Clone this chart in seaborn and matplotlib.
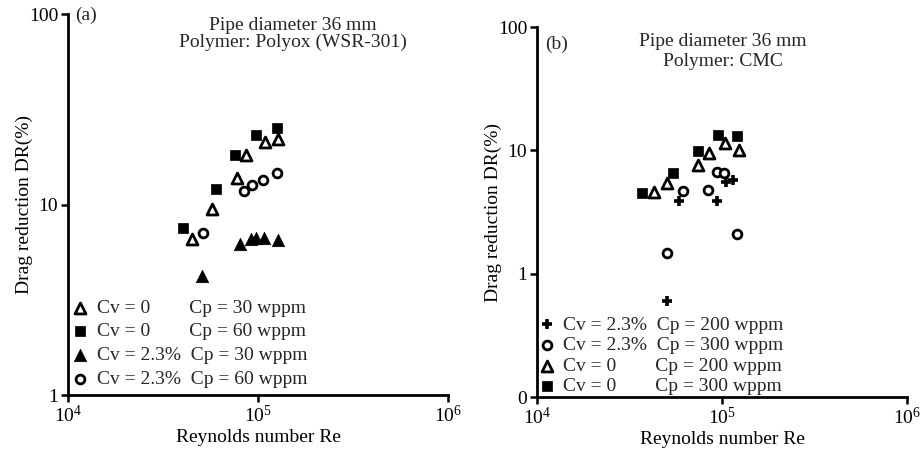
import matplotlib
matplotlib.use("Agg")
import matplotlib.pyplot as plt
import seaborn as sns
import pandas as pd
import numpy as np

# ---------------- data ----------------
# Panel (a): Polyox (WSR-301)
a_re_cv0_cp30 = [45000, 57300, 77400, 86500, 109000, 127000]
a_dr_cv0_cp30 = [6.6, 9.5, 13.7, 18.3, 21.2, 22.2]
a_re_cv0_cp60 = [40300, 60100, 75700, 97500, 126000]
a_dr_cv0_cp60 = [7.5, 12.0, 18.3, 23.1, 25.1]
a_re_cv23_cp30 = [50700, 80400, 91800, 97500, 108000, 127000]
a_dr_cv23_cp30 = [4.2, 6.2, 6.6, 6.7, 6.7, 6.5]
a_re_cv23_cp60 = [51400, 84300, 92900, 106000, 126000]
a_dr_cv23_cp60 = [7.1, 11.8, 12.7, 13.4, 14.7]

# Panel (b): CMC
b_re_cv23_cp200 = [50400, 58600, 94000, 105000, 114600]
b_dr_cv23_cp200 = [0.6, 3.9, 3.9, 5.5, 5.8]
b_re_cv23_cp300 = [50400, 61500, 83900, 94000, 102600, 120500]
b_dr_cv23_cp300 = [1.46, 4.7, 4.8, 6.7, 6.5, 2.1]
b_re_cv0_cp200 = [42800, 50400, 74100, 85100, 104000, 124000]
b_dr_cv0_cp200 = [4.6, 5.4, 7.6, 9.6, 11.4, 10.0]
b_re_cv0_cp300 = [37000, 54300, 74100, 95000, 120500]
b_dr_cv0_cp300 = [4.5, 6.5, 9.8, 13.2, 13.0]

labels_a = ["Cv = 0        Cp = 30 wppm",
            "Cv = 0        Cp = 60 wppm",
            "Cv = 2.3%  Cp = 30 wppm",
            "Cv = 2.3%  Cp = 60 wppm"]
labels_b = ["Cv = 2.3%  Cp = 200 wppm",
            "Cv = 2.3%  Cp = 300 wppm",
            "Cv = 0        Cp = 200 wppm",
            "Cv = 0        Cp = 300 wppm"]

x_ticks = [1e4, 1e5, 1e6]
x_ticklabels = ["$10^4$", "$10^5$", "$10^6$"]
a_yticks = [1, 10, 100]
a_yticklabels = ["1", "10", "100"]
b_yticks = [0.1, 1, 10, 100]
b_yticklabels = ["0", "1", "10", "100"]

# ---------------- style ----------------
sns.set_theme(style="ticks")
plt.rcParams["font.family"] = ["Liberation Serif", "DejaVu Serif"]
plt.rcParams["mathtext.fontset"] = "custom"
plt.rcParams["mathtext.rm"] = "Liberation Serif"
plt.rcParams["mathtext.it"] = "Liberation Serif:italic"
plt.rcParams["mathtext.bf"] = "Liberation Serif:bold"

FS = 14
fig = plt.figure(figsize=(9.22, 4.57), dpi=100)
axA = fig.add_axes([68 / 922, 1 - 395 / 457, 380 / 922, 381 / 457])
axB = fig.add_axes([537 / 922, 1 - 397 / 457, 370 / 922, 370 / 457])

open_kw = dict(color="white", edgecolor="black", linewidth=2.0)
fill_kw = dict(color="black", edgecolor="black", linewidth=0.5)


def draw(ax, x, y, marker, kw, size, label):
    df = pd.DataFrame({"Re": x, "DR": y})
    sns.scatterplot(data=df, x="Re", y="DR", ax=ax, marker=marker, s=size,
                    label=label, zorder=3, **kw)


draw(axA, a_re_cv0_cp30, a_dr_cv0_cp30, "^", open_kw, 62, labels_a[0])
draw(axA, a_re_cv0_cp60, a_dr_cv0_cp60, "s", fill_kw, 62, labels_a[1])
draw(axA, a_re_cv23_cp30, a_dr_cv23_cp30, "^", fill_kw, 80, labels_a[2])
draw(axA, a_re_cv23_cp60, a_dr_cv23_cp60, "o", open_kw, 40, labels_a[3])

draw(axB, b_re_cv23_cp200, b_dr_cv23_cp200, "+",
     dict(color="black", linewidth=2.6), 60, labels_b[0])
draw(axB, b_re_cv23_cp300, b_dr_cv23_cp300, "o", open_kw, 40, labels_b[1])
draw(axB, b_re_cv0_cp200, b_dr_cv0_cp200, "^", open_kw, 62, labels_b[2])
draw(axB, b_re_cv0_cp300, b_dr_cv0_cp300, "s", fill_kw, 62, labels_b[3])

for ax, yt, ytl, ylim in [(axA, a_yticks, a_yticklabels, (1, 100)),
                          (axB, b_yticks, b_yticklabels, (0.1, 100))]:
    ax.set_xscale("log")
    ax.set_yscale("log")
    ax.set_xlim(1e4, 1e6)
    ax.set_ylim(*ylim)
    ax.set_xticks(x_ticks)
    ax.set_xticklabels(x_ticklabels)
    ax.set_yticks(yt)
    ax.set_yticklabels(ytl)
    ax.minorticks_off()
    ax.tick_params(axis="both", which="major", direction="out", length=5,
                   width=1.8, color="black", labelsize=FS, pad=2,
                   labelcolor="black")
    for side in ["top", "right"]:
        ax.spines[side].set_visible(False)
    for side in ["left", "bottom"]:
        ax.spines[side].set_linewidth(2.0)
        ax.spines[side].set_color("black")
    ax.set_xlabel("Reynolds number Re", fontsize=FS, color="black", labelpad=2)
    ax.set_ylabel("Drag reduction DR(%)", fontsize=FS, color="black")
    ax.set_facecolor("white")

axA.yaxis.set_label_coords(-0.092, 0.5)
axB.yaxis.set_label_coords(-0.095, 0.5)

# legends
hA, lA = axA.get_legend_handles_labels()
axA.legend(hA, lA, loc="lower left", bbox_to_anchor=(0.012, 0.018),
           frameon=False, fontsize=FS, handlelength=0.8, handletextpad=0.45,
           labelspacing=0.32, borderpad=0, borderaxespad=0)
hB, lB = axB.get_legend_handles_labels()
axB.legend(hB, lB, loc="lower left", bbox_to_anchor=(0.005, 0.005),
           frameon=False, fontsize=FS, handlelength=0.8, handletextpad=0.45,
           labelspacing=0.15, borderpad=0, borderaxespad=0)

# annotations
fig.text(75 / 922, 1 - 15 / 457, "(a)", fontsize=FS, ha="left", va="center")
fig.text(293 / 922, 1 - 25 / 457, "Pipe diameter 36 mm", fontsize=FS,
         ha="center", va="center")
fig.text(293 / 922, 1 - 42 / 457, "Polymer: Polyox (WSR-301)", fontsize=FS,
         ha="center", va="center")
fig.text(545 / 922, 1 - 44 / 457, "(b)", fontsize=FS, ha="left", va="center")
fig.text(723 / 922, 1 - 42 / 457, "Pipe diameter 36 mm", fontsize=FS,
         ha="center", va="center")
fig.text(723 / 922, 1 - 62 / 457, "Polymer: CMC", fontsize=FS,
         ha="center", va="center")

fig.savefig("out.png", dpi=100, facecolor="white")
